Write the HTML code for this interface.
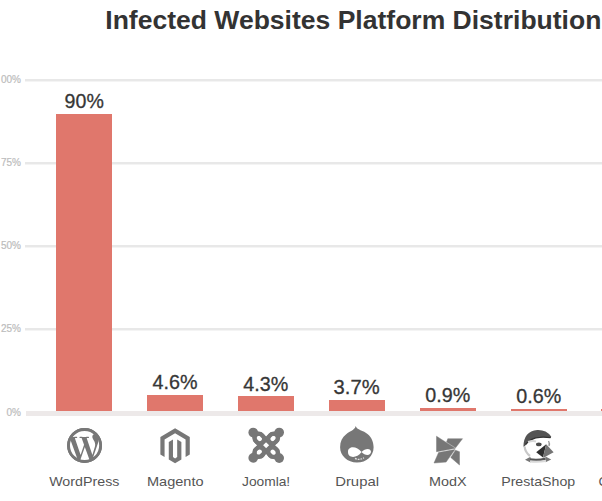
<!DOCTYPE html>
<html><head><meta charset="utf-8">
<style>
html,body{margin:0;padding:0;background:#fff;width:602px;height:501px;overflow:hidden}
svg{display:block}
text{font-family:"Liberation Sans",sans-serif}
</style></head><body>
<svg width="602" height="501" viewBox="0 0 602 501">
<rect width="602" height="501" fill="#fff"/>
<g fill="#e8e8e8">
<rect x="25" y="79" width="577" height="2"/>
<rect x="25" y="81" width="577" height="1" fill="#f4f4f4"/>
<rect x="25" y="162" width="577" height="2"/>
<rect x="25" y="164" width="577" height="1" fill="#f4f4f4"/>
<rect x="25" y="245" width="577" height="2"/>
<rect x="25" y="247" width="577" height="1" fill="#f4f4f4"/>
<rect x="25" y="328" width="577" height="2"/>
<rect x="25" y="330" width="577" height="1" fill="#f4f4f4"/>
</g>
<rect x="26" y="411" width="576" height="5" fill="#ede9e9"/>
<g fill="#e0776c">
<rect x="56" y="114" width="56" height="297"/>
<rect x="147" y="395" width="56" height="16"/>
<rect x="238" y="396" width="56" height="15"/>
<rect x="329" y="400" width="56" height="11"/>
<rect x="420" y="408" width="56" height="3"/>
<rect x="511" y="409" width="56" height="2"/>
<rect x="601" y="409" width="56" height="2"/>
</g>
<g font-size="10" fill="#bcbcbc" stroke="#bcbcbc" stroke-width="0.2" text-anchor="end">
<text x="21" y="83">00%</text>
<text x="21" y="166">75%</text>
<text x="21" y="249">50%</text>
<text x="21" y="332">25%</text>
<text x="21" y="415.6">0%</text>
</g>
<text x="105.30" y="28.50" font-size="25.6" font-weight="bold" fill="#333" textLength="496.10" lengthAdjust="spacingAndGlyphs">Infected Websites Platform Distribution</text>
<text x="64.60" y="107.50" font-size="20.5" fill="#363636" textLength="39.20" lengthAdjust="spacingAndGlyphs" stroke="#363636" stroke-width="0.3">90%</text>
<text x="152.60" y="389.00" font-size="20.5" fill="#363636" textLength="45.00" lengthAdjust="spacingAndGlyphs" stroke="#363636" stroke-width="0.3">4.6%</text>
<text x="243.20" y="391.00" font-size="20.5" fill="#363636" textLength="45.00" lengthAdjust="spacingAndGlyphs" stroke="#363636" stroke-width="0.3">4.3%</text>
<text x="333.60" y="394.00" font-size="20.5" fill="#363636" textLength="46.00" lengthAdjust="spacingAndGlyphs" stroke="#363636" stroke-width="0.3">3.7%</text>
<text x="425.20" y="402.00" font-size="20.5" fill="#363636" textLength="45.00" lengthAdjust="spacingAndGlyphs" stroke="#363636" stroke-width="0.3">0.9%</text>
<text x="516.20" y="403.00" font-size="20.5" fill="#363636" textLength="45.00" lengthAdjust="spacingAndGlyphs" stroke="#363636" stroke-width="0.3">0.6%</text>
<text x="49.20" y="485.70" font-size="13.5" fill="#555" textLength="70.20" lengthAdjust="spacingAndGlyphs">WordPress</text>
<text x="147.00" y="486.30" font-size="13.5" fill="#555" textLength="56.60" lengthAdjust="spacingAndGlyphs">Magento</text>
<text x="242.00" y="486.30" font-size="13.5" fill="#555" textLength="48.20" lengthAdjust="spacingAndGlyphs">Joomla!</text>
<text x="335.20" y="486.30" font-size="13.5" fill="#555" textLength="43.80" lengthAdjust="spacingAndGlyphs">Drupal</text>
<text x="429.00" y="486.30" font-size="13.5" fill="#555" textLength="37.60" lengthAdjust="spacingAndGlyphs">ModX</text>
<text x="501.20" y="486.30" font-size="13.5" fill="#555" textLength="74.00" lengthAdjust="spacingAndGlyphs">PrestaShop</text>
<text x="598.50" y="486.30" font-size="13.5" fill="#555">Concrete5</text>
<!-- icons -->
<g fill="#777">
<!-- wordpress -->
<path transform="translate(67.1 428.1) scale(1.455)" d="M21.469 6.825c.84 1.537 1.318 3.3 1.318 5.175 0 3.979-2.156 7.456-5.363 9.325l3.295-9.527c.615-1.54.82-2.771.82-3.864 0-.405-.026-.78-.07-1.11m-7.981.105c.647-.03 1.232-.105 1.232-.105.582-.075.514-.93-.067-.899 0 0-1.755.135-2.88.135-1.064 0-2.85-.15-2.85-.15-.585-.03-.661.855-.075.885 0 0 .54.061 1.125.09l1.68 4.605-2.37 7.08L5.354 6.9c.649-.03 1.234-.1 1.234-.1.585-.075.516-.93-.065-.896 0 0-1.746.138-2.874.138-.2 0-.438-.008-.69-.015C4.911 3.15 8.235 1.215 12 1.215c2.809 0 5.365 1.072 7.286 2.833-.046-.003-.091-.009-.141-.009-1.06 0-1.812.923-1.812 1.914 0 .89.513 1.643 1.06 2.531.411.72.89 1.643.89 2.977 0 .915-.354 1.994-.821 3.479l-1.075 3.585-3.9-11.61.001.014zM12 22.784c-1.059 0-2.081-.153-3.048-.437l3.237-9.406 3.315 9.087c.024.053.05.101.078.149-1.12.393-2.325.609-3.582.609M1.211 12c0-1.564.336-3.05.935-4.39L7.29 21.709C3.694 19.96 1.212 16.271 1.211 12M12 0C5.385 0 0 5.385 0 12s5.385 12 12 12 12-5.385 12-12S18.615 0 12 0"/>

<circle cx="84.56" cy="445.5" r="16.05" fill="none" stroke="#777" stroke-width="2.9"/>
<!-- joomla -->
<g transform="translate(266.2 445.4)">
<g fill="none" stroke="#777" stroke-width="4.2" stroke-linejoin="round">
<path d="M-13.00 -12.90 L-5.35 -11.26 L11.29 5.12 L13.00 12.70"/>
<path d="M13.00 -12.90 L11.29 -5.36 L-5.35 10.90 L-13.00 12.50"/>
<path d="M-13.00 -12.90 L-11.29 -5.32 L5.35 11.06 L13.00 12.70"/>
<path d="M13.00 -12.90 L5.35 -11.30 L-11.29 4.96 L-13.00 12.50"/>
</g>
<g fill="none" stroke="#777" stroke-width="3.8"><circle cx="-6.9" cy="-6.9" r="4.6"/><circle cx="-6.9" cy="6.9" r="4.6"/><circle cx="6.9" cy="-6.9" r="4.6"/><circle cx="6.9" cy="6.9" r="4.6"/></g>
<circle cx="-13" cy="-12.9" r="4.8"/><circle cx="13" cy="-12.9" r="4.8"/><circle cx="13" cy="12.7" r="4.8"/><circle cx="-13" cy="12.5" r="4.8"/>
</g>
<!-- drupal -->
<g transform="translate(336 422)">
<path d="M19.7 4.1 C20.6 8 27.5 8.6 31.8 12.2 C35.8 15.6 37.6 20.5 37.6 25.2 C37.6 34 30.5 40.5 20.9 40.5 C11.5 40.5 4.1 33.8 4.1 25.2 C4.1 19.5 6.2 15.2 10.2 12.2 C14.2 9 18.8 8.2 19.7 4.1 Z"/>
<path d="M12 30 C12 23.5 21 24 25.5 30 C29 26 35 25.8 35 29.8 C35 33.8 29 34 25.5 30 C21 36.5 12 36.5 12 30 Z" fill="#fff"/>
<path d="M19 36.4 Q23.5 38.6 28 35.8" fill="none" stroke="#e2e2e2" stroke-width="1.3" stroke-dasharray="1.8 1"/>
</g>
<!-- modx -->
<g transform="translate(426 424)" stroke="#777" stroke-width="0.45" stroke-linejoin="round">
<path d="M10.5 12.2 L29.3 24.3 L10.5 27.7 Z"/>
<path d="M21.8 14.7 L36.5 14.7 L29.6 23.8 L20.6 18 Z"/>
<path d="M12.6 28.5 L28.9 25.6 L20.1 38.1 L8 39 Z"/>
<path d="M29.5 26.2 L33.5 27.7 L33.5 41 L24.8 33.5 Z"/>
</g>
<!-- prestashop -->
<g transform="translate(515 422)">
<path d="M8.4 24.8 Q8.6 9.2 22.3 8 Q31 7.6 36.2 14.4 L35.8 16 Q30 14.9 24.9 15.2 Q15 15.8 9.8 24.2 Z" fill="#545454"/>
<path d="M10.5 22.5 Q16 15.6 25 15.3 Q30 15 35.5 15.6" fill="none" stroke="#333" stroke-width="1.3"/>
<path d="M9.6 24.5 Q10.2 30.5 15 34" fill="none" stroke="#c8c8c8" stroke-width="2.2"/><path d="M13 20 Q17.5 18.5 21 19.5" fill="none" stroke="#d8d8d8" stroke-width="2"/>
<ellipse cx="23.8" cy="22.4" rx="2.8" ry="1.9" fill="#4a4a4a"/>
<path d="M33.5 19 Q35 21.5 34 24" fill="none" stroke="#999" stroke-width="1.4"/>
<path d="M21.2 30.2 L31.2 22.2 L28 35.4 Z" fill="#2e2e2e"/>
<path d="M31.2 22.2 L38.6 30.2 L29 35.4 L28 35.4 Z" fill="#747474"/>
<path d="M10 37.8 L15.5 34.8 L15.5 40.5 Z" fill="#777"/>
<path d="M36.2 37.5 L30.5 34.6 L30.5 40.2 Z" fill="#777"/>
<path d="M15 36.3 Q23 37.5 30.5 35.5 L30.5 38 Q23 39.3 15 38.6 Z" fill="#555"/>
<path d="M15 38.6 Q23 39.6 31 38 L31 40 Q23 41.2 15 40.4 Z" fill="#d8d8d8"/>
</g>
<!-- magento -->
<path transform="translate(158.1 428.2) scale(1.415 1.465)" d="M12 24l-4.455-2.572v-12l2.97-1.715v12.001l1.485.902 1.485-.902V7.713l2.971 1.715v12L12 24zM22.391 6v12l-2.969 1.714V7.713L12 3.43 4.574 7.713v12L1.609 18V6L12 0l10.391 6z"/>
</g>
</svg>
</body></html>
